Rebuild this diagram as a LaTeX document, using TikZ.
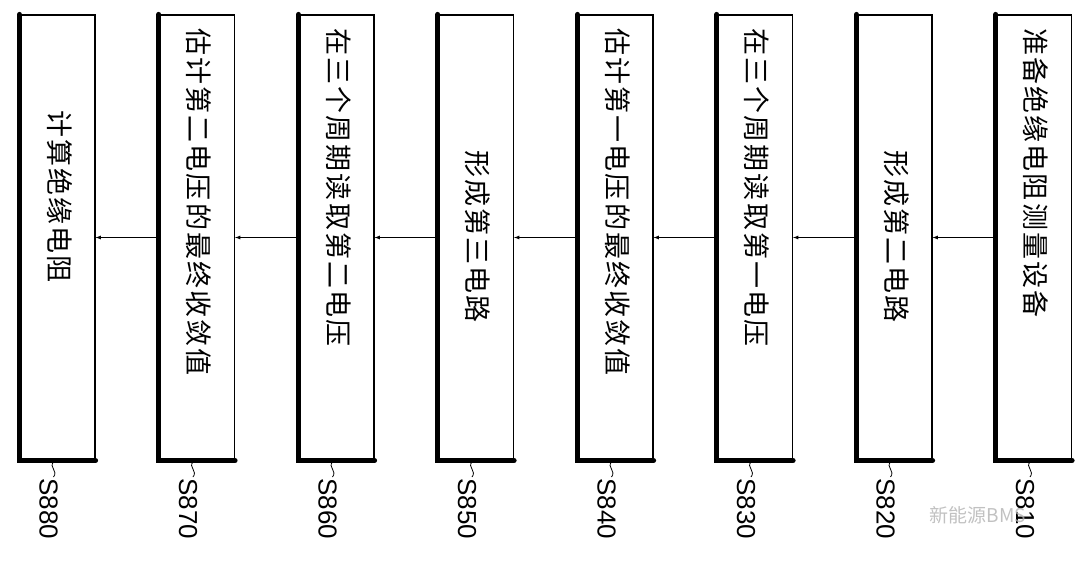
\documentclass[tikz,border=0pt]{standalone}
\usepackage{fontspec}
\newfontfamily\cjk[LetterSpace=8]{Noto Sans CJK SC}
\newfontfamily\cjkw{Noto Sans CJK SC}
\newfontfamily\lab{Liberation Sans}
\begin{document}
\begin{tikzpicture}[x=1pt,y=-1pt,
  boxst/.style={draw,line width=1.2pt,minimum width=75pt,minimum height=445pt,inner sep=0pt},
  txt/.style={rotate=-90,anchor=west,font=\cjk\fontsize{27}{27}\selectfont,inner sep=0pt},
  labst/.style={rotate=-90,anchor=west,font=\lab\fontsize{26}{26}\selectfont,inner sep=0pt},
  arr/.style={-latex,line width=0.8pt}]
\useasboundingbox (0,0) rectangle (1080,562);
\foreach \i/\s/\t/\ty in {0/880/计算绝缘电阻/110,1/870/估计第二电压的最终收敛值/28,2/860/在三个周期读取第二电压/28,3/850/形成第三电路/150,4/840/估计第一电压的最终收敛值/28,5/830/在三个周期读取第一电压/28,6/820/形成第二电路/150,7/810/准备绝缘电阻测量设备/28}{
  \pgfmathsetmacro{\cx}{57.5+139.5*\i}
  \node[boxst] (b\s) at (\cx,237.5) {};
  \draw[line width=5pt,line cap=round] (b\s.north west) -- (b\s.south west) -- (b\s.south east);
  \node[txt] (t\s) at (\cx+2,\ty) {\t};
  \coordinate (c\s) at (\cx-4,462);
  \node[labst] (l\s) at (\cx-9,478) {S\s};
  \draw[line width=0.8pt] (c\s) .. controls (\cx-9,467) and (\cx+1,471) .. (\cx-4,477);
}
\foreach \a/\b in {810/820,820/830,830/840,840/850,850/860,860/870,870/880}
  \draw[arr] (b\a.west) -- (b\b.east);
\node[font=\cjkw\fontsize{19}{19}\selectfont,text=gray!60,opacity=0.8] (wm) at (978,515) {新能源BMS};
\end{tikzpicture}
\end{document}
